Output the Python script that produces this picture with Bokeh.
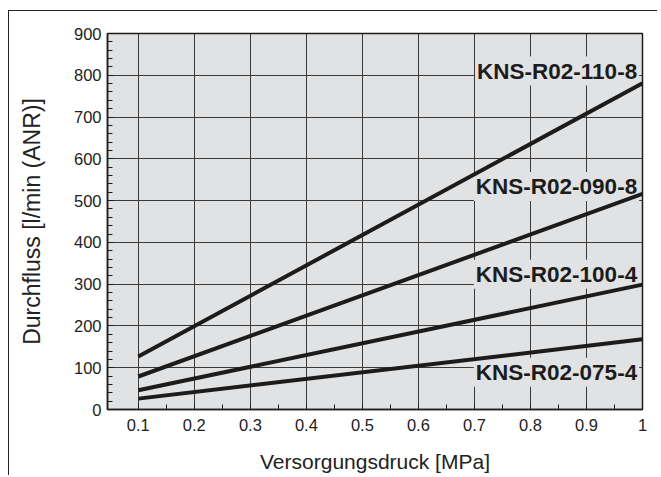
from bokeh.plotting import figure
from bokeh.models import Label, FixedTicker
from bokeh.embed import file_html
from bokeh.resources import INLINE

# Data
pressure = [0.1, 1.0]
series_names = ["KNS-R02-110-8", "KNS-R02-090-8", "KNS-R02-100-4", "KNS-R02-075-4"]
flow_110_8 = [127, 781]
flow_090_8 = [79, 516]
flow_100_4 = [46, 299]
flow_075_4 = [26, 168]
x_ticks = [0.1, 0.2, 0.3, 0.4, 0.5, 0.6, 0.7, 0.8, 0.9, 1.0]
y_ticks = [0, 100, 200, 300, 400, 500, 600, 700, 800, 900]

BG = "#e1e2e3"
INK = "#1c1c1c"
FONT = "Liberation Sans"

p = figure(width=649, height=465, x_range=(0.045, 1.0), y_range=(0, 900),
           output_backend="svg", toolbar_location=None,
           min_border_left=98, min_border_top=22, min_border_right=16, min_border_bottom=67,
           background_fill_color=BG, border_fill_color="white")
p.styles = {"border-top": "1.5px solid #222", "border-left": "1.5px solid #222",
            "margin-left": "8px", "margin-top": "10px"}

p.outline_line_color = INK
p.outline_line_width = 1.5

xt = FixedTicker(ticks=x_ticks, minor_ticks=[0.15, 0.25, 0.35, 0.45, 0.55, 0.65, 0.75, 0.85, 0.95])
yt = FixedTicker(ticks=y_ticks, minor_ticks=[v for v in range(0, 901, 20)])
p.xaxis.ticker = xt
p.yaxis.ticker = yt
p.xgrid.ticker = FixedTicker(ticks=x_ticks)
p.ygrid.ticker = FixedTicker(ticks=y_ticks)
p.xaxis.major_label_overrides = {1.0: "1", 1: "1"}

for g in (p.xgrid, p.ygrid):
    g.grid_line_color = "#3a3a3a"
    g.grid_line_width = 1

for ax in (p.xaxis, p.yaxis):
    ax.axis_line_color = INK
    ax.axis_line_width = 1.5
    ax.major_tick_in = 6
    ax.major_tick_out = 0
    ax.minor_tick_in = 5
    ax.minor_tick_out = 0
    ax.major_tick_line_color = INK
    ax.minor_tick_line_color = INK
    ax.major_label_text_font = FONT
    ax.major_label_text_font_size = "16.5px"
    ax.major_label_text_color = "#222"
    ax.axis_label_text_font = FONT
    ax.axis_label_text_font_style = "normal"
    ax.axis_label_text_color = "#222"

p.xaxis.axis_label = "Versorgungsdruck [MPa]"
p.yaxis.axis_label = "Durchfluss [l/min (ANR)]"
p.xaxis.axis_label_text_font_size = "21px"
p.yaxis.axis_label_text_font_size = "23px"
p.xaxis.major_label_standoff = 9
p.xaxis.axis_label_standoff = 16
p.yaxis.major_label_standoff = 6
p.yaxis.axis_label_standoff = 26

for ys in (flow_110_8, flow_090_8, flow_100_4, flow_075_4):
    p.line(pressure, ys, line_color=INK, line_width=4)

label_y = [810, 534, 324, 89]
for name, ly in zip(series_names, label_y):
    p.add_layout(Label(x=0.994, y=ly, text=name, text_align="right", text_baseline="middle",
                       text_font=FONT, text_font_style="bold", text_font_size="22.5px",
                       text_color=INK, background_fill_color=BG, padding=2,
                       level="underlay"))

open("out.html", "w").write(file_html(p, INLINE))
